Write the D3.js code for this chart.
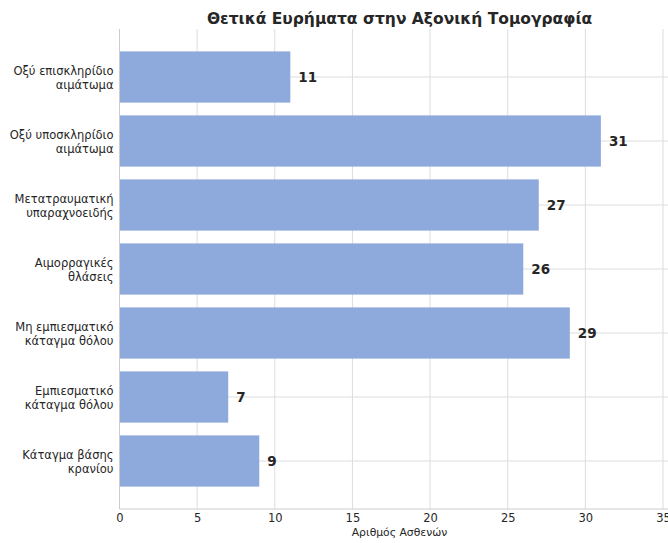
<!DOCTYPE html>
<html>
<head>
<meta charset="utf-8">
<script src="https://cdn.jsdelivr.net/npm/d3@7"></script>
<style>
  body { margin: 0; background: #fff; }
  svg { display: block; font-family: "DejaVu Sans", sans-serif; }
</style>
</head>
<body>
<div id="chart"></div>
<script>
// Categories (top to bottom), each split into two label lines
const categories = [
  ["Οξύ επισκληρίδιο", "αιμάτωμα"],
  ["Οξύ υποσκληρίδιο", "αιμάτωμα"],
  ["Μετατραυματική", "υπαραχνοειδής"],
  ["Αιμορραγικές", "θλάσεις"],
  ["Μη εμπιεσματικό", "κάταγμα θόλου"],
  ["Εμπιεσματικό", "κάταγμα θόλου"],
  ["Κάταγμα βάσης", "κρανίου"]
];
const patients = [11, 31, 27, 26, 29, 7, 9];
const xTicks = [0, 5, 10, 15, 20, 25, 30, 35];

const chartTitle = "Θετικά Ευρήματα στην Αξονική Τομογραφία";
const xTitle = "Αριθμός Ασθενών";

const width = 668, height = 543;
const margin = { top: 29, right: -12, bottom: 34, left: 119.5 };

const svg = d3.select("#chart").append("svg")
  .attr("width", width)
  .attr("height", height);

const innerW = width - margin.left - margin.right;
const innerH = height - margin.top - margin.bottom;

const g = svg.append("g")
  .attr("transform", `translate(${margin.left},${margin.top})`);

const data = categories.map((c, i) => ({ key: c.join(" "), lines: c, value: patients[i] }));

const x = d3.scaleLinear().domain([0, 35]).range([0, 543.5]);
const y = d3.scaleBand()
  .domain(data.map(d => d.key))
  .range([0, innerH])
  .paddingInner(0.2)
  .paddingOuter(0.35);

// vertical grid
g.selectAll(".vgrid").data(xTicks).enter().append("line")
  .attr("x1", d => x(d)).attr("x2", d => x(d))
  .attr("y1", 0).attr("y2", innerH)
  .attr("stroke", "#dddddd").attr("stroke-width", 1);

// horizontal grid at band centers
g.selectAll(".hgrid").data(data).enter().append("line")
  .attr("x1", 0).attr("x2", innerW)
  .attr("y1", d => y(d.key) + y.bandwidth() / 2)
  .attr("y2", d => y(d.key) + y.bandwidth() / 2)
  .attr("stroke", "#dddddd").attr("stroke-width", 1);

// bars
g.selectAll(".bar").data(data).enter().append("rect")
  .attr("x", 0)
  .attr("y", d => y(d.key))
  .attr("width", d => x(d.value))
  .attr("height", y.bandwidth())
  .attr("fill", "#8eaadc");

// value labels
g.selectAll(".val").data(data).enter().append("text")
  .attr("x", d => x(d.value) + 8)
  .attr("y", d => y(d.key) + y.bandwidth() / 2)
  .attr("dy", "0.36em")
  .attr("font-size", 13.5)
  .attr("font-weight", "bold")
  .attr("fill", "#262626")
  .text(d => d.value);

// spines
g.append("line").attr("x1", 0).attr("x2", 0).attr("y1", 0).attr("y2", innerH)
  .attr("stroke", "#cccccc");
g.append("line").attr("x1", 0).attr("x2", innerW).attr("y1", innerH).attr("y2", innerH)
  .attr("stroke", "#cccccc");

// x axis
const xAxis = g.append("g")
  .attr("transform", `translate(0,${innerH})`)
  .call(d3.axisBottom(x).tickValues(xTicks).tickSize(0).tickPadding(5));
xAxis.select(".domain").remove();
xAxis.selectAll("text").attr("font-size", 11.5).attr("fill", "#262626")
  .attr("font-family", "DejaVu Sans, sans-serif");

// y axis labels (two lines)
const yLab = g.selectAll(".ylab").data(data).enter().append("text")
  .attr("text-anchor", "end")
  .attr("font-size", 11.5)
  .attr("fill", "#262626")
  .attr("transform", d => `translate(-6,${y(d.key) + y.bandwidth() / 2})`);
yLab.selectAll("tspan").data(d => d.lines).enter().append("tspan")
  .attr("x", 0)
  .attr("y", (l, i) => (i === 0 ? -2 : 12))
  .text(l => l);

// titles
svg.append("text")
  .attr("x", 399.5).attr("y", 24)
  .attr("text-anchor", "middle")
  .attr("font-size", 15.5)
  .attr("font-weight", "bold")
  .attr("fill", "#262626")
  .text(chartTitle);

svg.append("text")
  .attr("x", 399.5).attr("y", 536)
  .attr("text-anchor", "middle")
  .attr("font-size", 10.8)
  .attr("fill", "#262626")
  .text(xTitle);
</script>
</body>
</html>
